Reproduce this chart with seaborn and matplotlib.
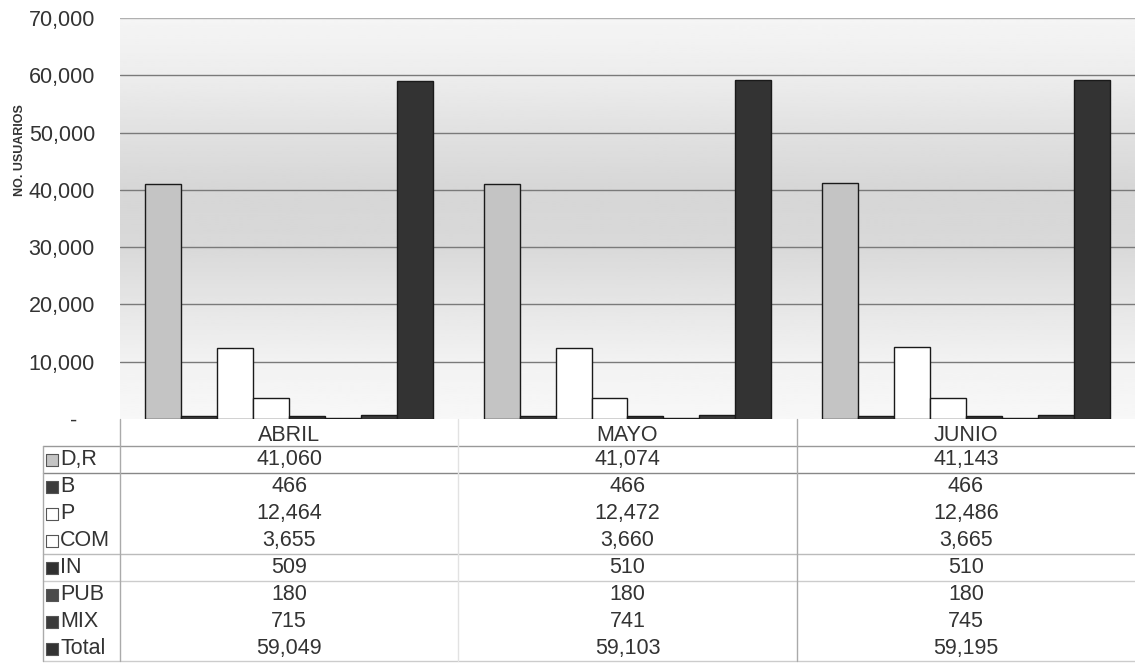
import numpy as np
import pandas as pd
import matplotlib
matplotlib.use("Agg")
import matplotlib.pyplot as plt
import seaborn as sns

meses = ["ABRIL", "MAYO", "JUNIO"]
series = ["D,R", "B", "P", "COM", "IN", "PUB", "MIX", "Total"]
dr = [41060, 41074, 41143]
b = [466, 466, 466]
p = [12464, 12472, 12486]
com = [3655, 3660, 3665]
inn = [509, 510, 510]
pub = [180, 180, 180]
mix = [715, 741, 745]
total = [59049, 59103, 59195]

valores = [dr, b, p, com, inn, pub, mix, total]
colores = ["#c4c4c4", "#3c3c3c", "#ffffff", "#ffffff",
           "#303030", "#4a4a4a", "#3a3a3a", "#333333"]

rows = []
for s, vals in zip(series, valores):
    for m, v in zip(meses, vals):
        rows.append({"mes": m, "serie": s, "usuarios": v})
df = pd.DataFrame(rows)

sns.set_style("white")
plt.rcParams["font.family"] = ["Liberation Sans", "DejaVu Sans"]

fig = plt.figure(figsize=(11.35, 6.65), dpi=100)
ax = fig.add_axes([0.1057, 0.370, 0.8943, 0.603])

# gradient plot area background
ys = np.linspace(0, 1, 200)
shade = np.interp(ys, [0, 0.14, 0.29, 0.43, 0.57, 0.71, 0.86, 1.0],
                  [0.97, 0.95, 0.90, 0.85, 0.84, 0.88, 0.93, 0.96])
ax.imshow(shade[::-1].reshape(-1, 1), extent=[-0.5, 2.5, 0, 70000],
          aspect="auto", cmap="gray", vmin=0, vmax=1, zorder=0)

sns.barplot(data=df, x="mes", y="usuarios", hue="serie", order=meses,
            hue_order=series, palette=colores, width=0.85,
            edgecolor="#1a1a1a", linewidth=1, saturation=1, legend=False, ax=ax)

ax.set_xlim(-0.5, 2.5)
ax.set_ylim(0, 70000)
ax.set_yticks(range(0, 70001, 10000))
ax.set_yticklabels(["-   "] + [f"{v:,}" for v in range(10000, 70001, 10000)],
                   fontsize=15.5, color="#333333")
ax.tick_params(axis="y", length=0, pad=18)
ax.set_xticks([])
ax.set_xlabel("")
for v in range(10000, 70001, 10000):
    ax.axhline(v, color="#7a7a7a" if v < 70000 else "#b0b0b0", lw=1, zorder=0.5)
for sp in ax.spines.values():
    sp.set_visible(False)
ax.set_ylabel("NO. USUARIOS", fontsize=9, fontweight="bold", color="#333333")
ax.yaxis.set_label_coords(-0.093, 0.67)

# data table below the chart
tab = fig.add_axes([0.1057, 0.0045, 0.8943, 0.3654])
tab.set_xlim(-0.5, 2.5)
tab.set_ylim(9, 0)
tab.axis("off")

x_left = -0.728
x_mark = -0.70
x_lab = -0.677

for i, m in enumerate(meses):
    tab.text(i, 0.6, m, ha="center", va="center", fontsize=15.5, color="#333333")

for r, (s, vals, c) in enumerate(zip(series, valores, colores), start=1):
    tab.scatter([x_mark], [r + 0.5], marker="s", s=75, color=c,
                edgecolor="#555555", linewidth=0.8, clip_on=False)
    tab.text(x_lab, r + 0.5, s, ha="left", va="center", fontsize=15.5,
             color="#333333", clip_on=False)
    for i, v in enumerate(vals):
        tab.text(i, r + 0.5, f"{v:,}", ha="center", va="center",
                 fontsize=15.5, color="#333333")

# table grid lines
for yl, col in [(1, "#999999"), (2, "#888888"), (5, "#bbbbbb"),
                (6, "#cccccc"), (8.95, "#cccccc")]:
    tab.plot([x_left, 2.5], [yl, yl], color=col, lw=1, clip_on=False)
tab.plot([x_left, x_left], [1, 8.95], color="#aaaaaa", lw=1, clip_on=False)
tab.plot([-0.5, -0.5], [0, 8.95], color="#aaaaaa", lw=1, clip_on=False)
tab.plot([0.5, 0.5], [0, 8.95], color="#e2e2e2", lw=1, clip_on=False)
tab.plot([1.5, 1.5], [0, 8.95], color="#aaaaaa", lw=1, clip_on=False)

fig.savefig("out.png", dpi=100)
